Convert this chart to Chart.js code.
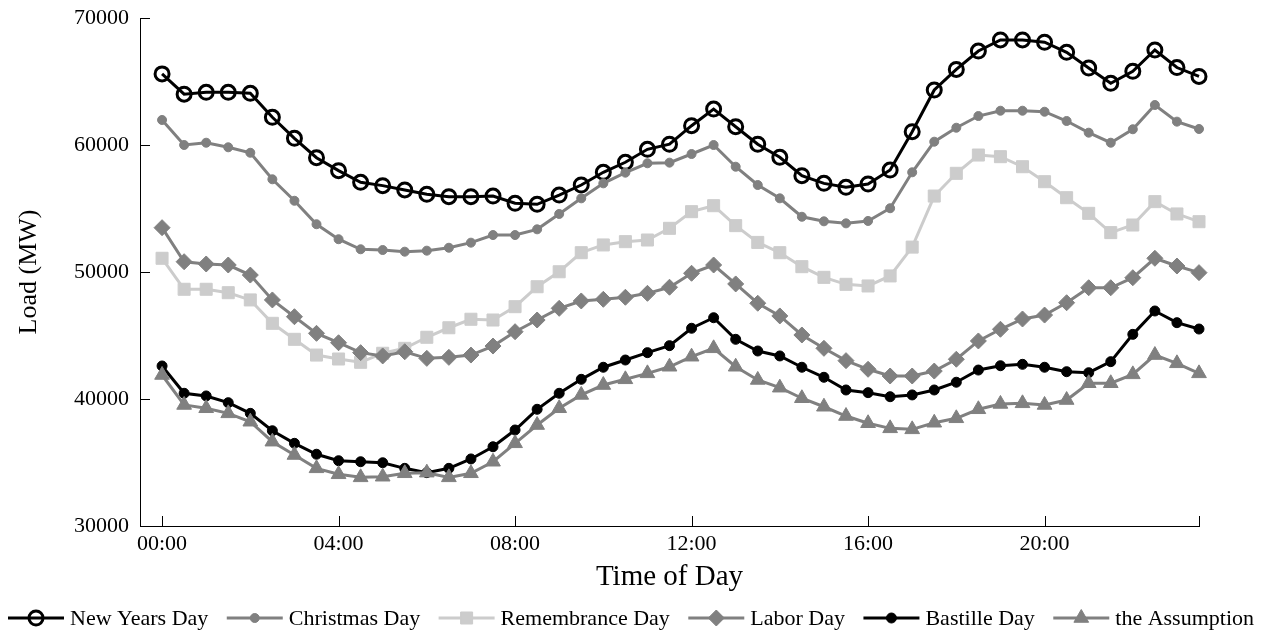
<!DOCTYPE html>
<html>
<head>
<meta charset="utf-8">
<script src="https://cdn.jsdelivr.net/npm/chart.js@4/dist/chart.umd.min.js"></script>
<style>
  html, body { margin: 0; padding: 0; background: #fff; }
</style>
</head>
<body>
<canvas id="loadChart" width="1271" height="637"></canvas>
<script>
// half-hourly time stamps
var times = ['00:00','00:30','01:00','01:30','02:00','02:30','03:00','03:30','04:00','04:30','05:00','05:30',
             '06:00','06:30','07:00','07:30','08:00','08:30','09:00','09:30','10:00','10:30','11:00','11:30',
             '12:00','12:30','13:00','13:30','14:00','14:30','15:00','15:30','16:00','16:30','17:00','17:30',
             '18:00','18:30','19:00','19:30','20:00','20:30','21:00','21:30','22:00','22:30','23:00','23:30'];

var xTickHours  = [0, 4, 8, 12, 16, 20, 23.5];
var xTickLabels = ['00:00', '04:00', '08:00', '12:00', '16:00', '20:00', ''];
var yTicks = [30000, 40000, 50000, 60000, 70000];

var newYears = [65600,64000,64150,64150,64070,62180,60530,59000,57980,57060,56800,56460,
                56120,55930,55930,55980,55410,55330,56060,56850,57850,58640,59660,60060,
                61520,62830,61440,60060,59030,57580,56980,56670,56930,58030,61050,64330,
                65950,67400,68270,68270,68090,67300,66060,64860,65800,67480,66100,65400];
var christmas = [61970,60000,60180,59820,59390,57300,55610,53760,52580,51790,51730,51600,
                 51680,51910,52310,52910,52910,53360,54570,55800,56980,57820,58560,58610,
                 59290,60000,58290,56850,55800,54350,53990,53830,54020,55020,57850,60260,
                 61360,62280,62700,62700,62620,61890,60970,60180,61240,63150,61840,61260];
var remembrance = [51080,48640,48640,48370,47800,45960,44700,43460,43150,42890,43600,43990,
                   44860,45610,46280,46220,47270,48840,50020,51520,52130,52390,52520,53440,
                   54750,55220,53650,52330,51520,50420,49580,49030,48900,49690,51960,55980,
                   57770,59210,59080,58290,57110,55850,54620,53100,53700,55540,54570,53960];
var labor = [53490,50810,50630,50550,49760,47800,46480,45170,44430,43650,43390,43720,
             43200,43280,43460,44170,45300,46220,47140,47720,47850,48010,48320,48800,
             49900,50550,49060,47540,46540,45040,43990,43020,42340,41810,41810,42200,
             43130,44570,45490,46300,46610,47580,48760,48760,49550,51080,50470,49950];
var bastille = [42600,40450,40240,39710,38870,37500,36510,35650,35140,35060,34980,34540,
                34200,34540,35280,36240,37560,39190,40450,41550,42500,43070,43650,44200,
                45570,46400,44700,43780,43390,42500,41710,40710,40500,40180,40320,40710,
                41320,42280,42620,42730,42500,42150,42070,42940,45090,46930,46010,45510];
var assumption = [41890,39530,39270,38870,38210,36640,35590,34540,34070,33830,33880,34150,
                  34200,33830,34150,35060,36510,37950,39270,40320,41100,41550,42020,42540,
                  43330,43990,42540,41500,40890,40060,39390,38660,38090,37690,37610,38130,
                  38480,39190,39610,39660,39530,39920,41240,41240,41940,43460,42810,42020];

var seriesNames = ['New Years Day', 'Christmas Day', 'Remembrance Day', 'Labor Day', 'Bastille Day', 'the Assumption'];

var FONT = "'Liberation Serif', 'Times New Roman', serif";

function toHours(t) {
    var p = t.split(':');
    return parseInt(p[0], 10) + parseInt(p[1], 10) / 60;
}

function series(values) {
    return values.map(function(v, i) { return { x: toHours(times[i]), y: v }; });
}

function makeSet(idx, values, color, style, radius, fill, bw) {
    return {
        label: seriesNames[idx],
        data: series(values),
        borderColor: color,
        borderWidth: 3,
        pointStyle: style,
        pointRadius: radius,
        pointBackgroundColor: fill,
        pointBorderColor: color,
        pointBorderWidth: bw,
        tension: 0,
        clip: false,
        order: 6 - idx
    };
}

var datasets = [
    makeSet(0, newYears,    '#000000', 'circle',   7,   'rgba(0,0,0,0)', 3),
    makeSet(1, christmas,   '#808080', 'circle',   4.5, '#808080', 1),
    makeSet(2, remembrance, '#cccccc', 'rect',     8.5, '#cccccc', 1),
    makeSet(3, labor,       '#808080', 'rectRot',  8,   '#808080', 1),
    makeSet(4, bastille,    '#000000', 'circle',   5,   '#000000', 1),
    makeSet(5, assumption,  '#808080', 'triangle', 8.5, '#808080', 1)
];

// short tick marks pointing into the plot
var innerTicks = {
    id: 'innerTicks',
    afterDraw: function(chart) {
        var ctx = chart.ctx;
        var area = chart.chartArea;
        var xs = chart.scales.x, ys = chart.scales.y;
        ctx.save();
        ctx.strokeStyle = '#000';
        ctx.lineWidth = 1;
        ctx.beginPath();
        xTickHours.forEach(function(h) {
            var px = Math.round(xs.getPixelForValue(h)) + 0.5;
            ctx.moveTo(px, area.bottom);
            ctx.lineTo(px, area.bottom - 10);
        });
        yTicks.forEach(function(v) {
            var py = Math.round(ys.getPixelForValue(v)) + 0.5;
            ctx.moveTo(area.left, py);
            ctx.lineTo(area.left + 10, py);
        });
        ctx.stroke();
        ctx.restore();
    }
};

// legend: line with marker, then name, spread across the bottom
var lineLegend = {
    id: 'lineLegend',
    afterDraw: function(chart) {
        var ctx = chart.ctx;
        var y = 618;
        var lineLen = 56, gap = 6;
        ctx.save();
        ctx.font = '22px ' + FONT;
        var widths = chart.data.datasets.map(function(ds) {
            return lineLen + gap + ctx.measureText(ds.label).width;
        });
        var total = widths.reduce(function(a, b) { return a + b; }, 0);
        var x0 = 8, x1 = 1254;
        var spacing = (x1 - x0 - total) / (widths.length - 1);
        var x = x0;
        chart.data.datasets.forEach(function(ds, i) {
            ctx.strokeStyle = ds.borderColor;
            ctx.lineWidth = ds.borderWidth;
            ctx.beginPath();
            ctx.moveTo(x, y);
            ctx.lineTo(x + lineLen, y);
            ctx.stroke();
            ctx.fillStyle = ds.pointBackgroundColor;
            ctx.strokeStyle = ds.pointBorderColor;
            ctx.lineWidth = ds.pointBorderWidth;
            Chart.helpers.drawPoint(ctx, { pointStyle: ds.pointStyle, radius: ds.pointRadius, borderWidth: ds.pointBorderWidth, rotation: 0 }, x + lineLen / 2, y);
            ctx.fillStyle = '#000';
            ctx.textBaseline = 'middle';
            ctx.textAlign = 'left';
            ctx.fillText(ds.label, x + lineLen + gap, y + 1);
            x += widths[i] + spacing;
        });
        ctx.restore();
    }
};

new Chart(document.getElementById('loadChart'), {
    type: 'line',
    data: { datasets: datasets },
    plugins: [innerTicks, lineLegend],
    options: {
        responsive: false,
        animation: false,
        devicePixelRatio: 1,
        layout: { padding: { top: 18, right: 72, bottom: 40, left: 0 } },
        plugins: { legend: { display: false }, tooltip: { enabled: false } },
        scales: {
            x: {
                type: 'linear',
                min: -0.5,
                max: 23.5,
                afterFit: function(s) { s.height = 71; },
                afterBuildTicks: function(s) {
                    s.ticks = xTickHours.map(function(h) { return { value: h }; });
                },
                ticks: {
                    autoSkip: false,
                    maxRotation: 0,
                    padding: 5,
                    color: '#000',
                    font: { family: FONT, size: 22 },
                    callback: function(v) { return xTickLabels[xTickHours.indexOf(v)]; }
                },
                grid: { drawOnChartArea: false, drawTicks: false },
                border: { display: true, color: '#000', width: 1 },
                title: { display: true, text: 'Time of Day', color: '#000', font: { family: FONT, size: 29 }, padding: { top: 0, bottom: 2 } }
            },
            y: {
                min: 30000,
                max: 70000,
                afterFit: function(s) { s.width = 140; },
                afterBuildTicks: function(s) {
                    s.ticks = yTicks.map(function(v) { return { value: v }; });
                },
                ticks: {
                    padding: 3,
                    color: '#000',
                    font: { family: FONT, size: 22 },
                    callback: function(v) { return String(v); }
                },
                grid: { drawOnChartArea: false, drawTicks: true, tickLength: 8, color: 'rgba(0,0,0,0)' },
                border: { display: true, color: '#000', width: 1 },
                title: { display: true, text: 'Load (MW)', color: '#000', font: { family: FONT, size: 26 }, padding: { top: 14, bottom: 0 } }
            }
        }
    }
});
</script>
</body>
</html>
